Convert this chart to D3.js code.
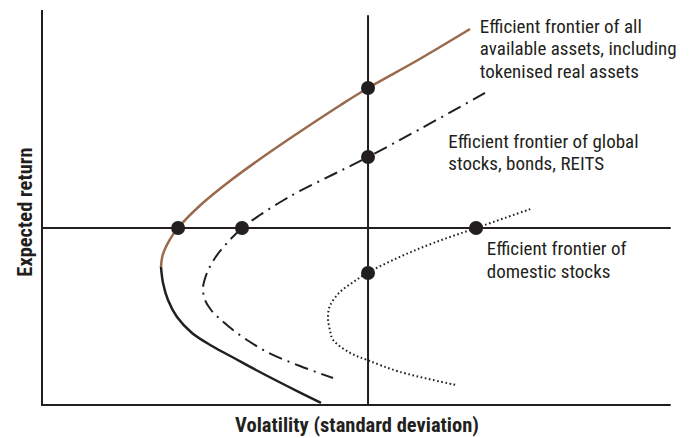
<!DOCTYPE html>
<html>
<head>
<meta charset="utf-8">
<script src="https://cdn.jsdelivr.net/npm/d3@7"></script>
<style>
  body { margin: 0; background: #fff; }
  svg text { font-family: "Liberation Sans Narrow", "Roboto Condensed", "DejaVu Sans Condensed", sans-serif; fill: #231f20; }
</style>
</head>
<body>
<svg id="chart" width="695" height="438"></svg>
<script>
// Frontier points: [volatility, expected return] (arbitrary 0-10 units)
const allAssetsUpper = [[1.889, 3.494], [1.916, 3.797], [2.024, 4.177], [2.159, 4.481], [2.517, 5.063], [3.003, 5.696], [3.551, 6.329], [4.135, 6.962], [4.741, 7.595], [5.175, 8.025], [5.968, 8.734], [6.794, 9.519]];
const allAssetsLower = [[1.889, 3.494], [1.921, 3.089], [2.000, 2.658], [2.143, 2.228], [2.381, 1.823], [2.698, 1.494], [3.048, 1.190], [3.397, 0.886], [3.889, 0.481], [4.429, 0.051]];
const globalFrontier = [[7.032, 7.899], [6.000, 6.987], [5.175, 6.278], [4.619, 5.835], [4.095, 5.418], [3.825, 5.177], [3.460, 4.810], [3.175, 4.481], [2.937, 4.101], [2.746, 3.722], [2.619, 3.342], [2.556, 2.962], [2.587, 2.658], [2.683, 2.405], [2.825, 2.177], [3.095, 1.823], [3.571, 1.342], [4.095, 0.987], [4.619, 0.684]];
const domesticFrontier = [[7.75, 4.96], [6.89, 4.48], [6.21, 4.10], [5.68, 3.75], [5.16, 3.34], [4.94, 3.11], [4.73, 2.86], [4.57, 2.51], [4.54, 2.20], [4.57, 1.90], [4.62, 1.65], [4.89, 1.32], [5.16, 1.14], [5.68, 0.84], [6.56, 0.51]];
const markers = [[2.16, 4.48], [3.175, 4.48], [5.175, 8.025], [5.175, 6.278], [5.175, 3.34], [6.89, 4.48]];

// Reference cross
const refVolatility = 5.175;
const refReturn = 4.48;

const labels = [
  { lines: ["Efficient frontier of all", "available assets, including", "tokenised real assets"], at: [6.95, 9.43] },
  { lines: ["Efficient frontier of global", "stocks, bonds, REITS"], at: [6.45, 6.51] },
  { lines: ["Efficient frontier of", "domestic stocks"], at: [7.06, 3.79] }
];
const xTitle = "Volatility (standard deviation)";
const yTitle = "Expected return";

const ink = "#231f20";
const brown = "#9a6a4c";

const svg = d3.select("#chart");
const x = d3.scaleLinear().domain([0, 10]).range([42, 672]);
const y = d3.scaleLinear().domain([0, 10]).range([405, 10]);

const line = d3.line()
    .x(d => x(d[0]))
    .y(d => y(d[1]))
    .curve(d3.curveCatmullRom.alpha(0.5));

// Axes (no ticks)
svg.append("line")
    .attr("x1", x(0)).attr("x2", x(0))
    .attr("y1", y(10)).attr("y2", y(0))
    .attr("stroke", ink).attr("stroke-width", 2);
svg.append("line")
    .attr("x1", x(0) - 1).attr("x2", x(9.98))
    .attr("y1", y(0)).attr("y2", y(0))
    .attr("stroke", ink).attr("stroke-width", 2);

// Crosshair
svg.append("line")
    .attr("x1", x(refVolatility)).attr("x2", x(refVolatility))
    .attr("y1", y(9.87)).attr("y2", y(0))
    .attr("stroke", ink).attr("stroke-width", 2);
svg.append("line")
    .attr("x1", x(0)).attr("x2", x(9.98))
    .attr("y1", y(refReturn)).attr("y2", y(refReturn))
    .attr("stroke", ink).attr("stroke-width", 2);

// Frontiers
svg.append("path").datum(allAssetsUpper)
    .attr("d", line).attr("fill", "none")
    .attr("stroke", brown).attr("stroke-width", 2.5);
svg.append("path").datum(allAssetsLower)
    .attr("d", line).attr("fill", "none")
    .attr("stroke", ink).attr("stroke-width", 2.5);
svg.append("path").datum(globalFrontier)
    .attr("d", line).attr("fill", "none")
    .attr("stroke", ink).attr("stroke-width", 2)
    .attr("stroke-dasharray", "14,6,2,6");
svg.append("path").datum(domesticFrontier)
    .attr("d", line).attr("fill", "none")
    .attr("stroke", ink).attr("stroke-width", 2)
    .attr("stroke-dasharray", "1.6,2.6");

// Intersection markers
svg.selectAll(".marker")
    .data(markers)
    .enter().append("circle")
    .attr("class", "marker")
    .attr("cx", d => x(d[0]))
    .attr("cy", d => y(d[1]))
    .attr("r", 7)
    .attr("fill", ink);

// Annotations
labels.forEach(l => {
    const t = svg.append("text")
        .attr("x", x(l.at[0]))
        .attr("y", y(l.at[1]))
        .attr("font-size", 19);
    l.lines.forEach((s, i) => {
        t.append("tspan")
            .attr("x", x(l.at[0]))
            .attr("dy", i === 0 ? 0 : 22.5)
            .text(s);
    });
});

// Axis titles
svg.append("text")
    .attr("x", 357).attr("y", 432)
    .attr("text-anchor", "middle")
    .attr("font-size", 20.5)
    .attr("font-weight", "bold")
    .text(xTitle);
svg.append("text")
    .attr("transform", "translate(32,212) rotate(-90)")
    .attr("text-anchor", "middle")
    .attr("font-size", 20.5)
    .attr("font-weight", "bold")
    .text(yTitle);
</script>
</body>
</html>
